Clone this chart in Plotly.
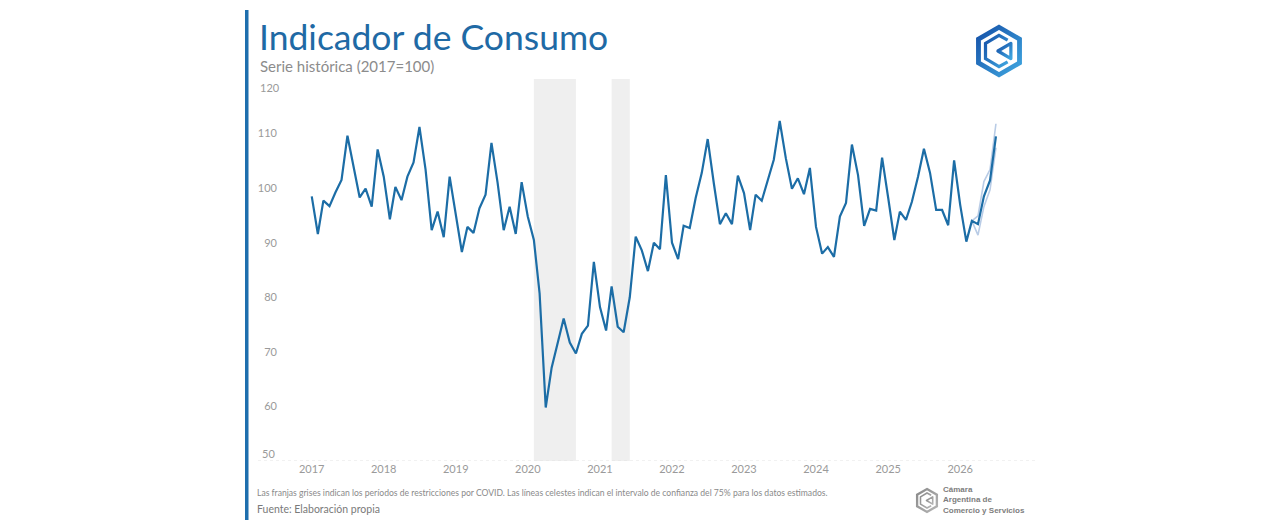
import base64
import pandas as pd
import plotly.graph_objects as go

# Indicador de Consumo, serie mensual (2017=100)
y2017 = [98.5, 91.6, 97.7, 96.7, 99.2, 101.5, 109.6, 104.0, 98.3, 99.9, 96.6, 107.1]
y2018 = [102.1, 94.3, 100.2, 97.8, 102.1, 104.7, 111.2, 103.4, 92.3, 95.7, 91.0, 102.1]
y2019 = [95.4, 88.3, 92.9, 91.8, 96.3, 98.8, 108.3, 101.0, 92.3, 96.6, 91.6, 101.1]
y2020 = [94.8, 90.5, 80.7, 59.8, 67.1, 71.7, 76.1, 71.7, 69.7, 73.3, 74.8, 86.5]
y2021 = [78.2, 73.9, 82.0, 74.6, 73.6, 80.0, 91.1, 88.6, 84.8, 90.0, 88.8, 102.4]
y2022 = [90.0, 87.0, 93.1, 92.7, 98.2, 102.8, 109.0, 100.9, 93.4, 95.4, 93.4, 102.3]
y2023 = [99.1, 92.3, 98.8, 97.7, 101.2, 105.2, 112.3, 105.5, 99.9, 101.8, 98.9, 103.7]
y2024 = [92.9, 88.0, 89.2, 87.4, 94.8, 97.3, 108.0, 102.4, 93.1, 96.2, 95.9, 105.6]
y2025 = [98.2, 90.5, 95.7, 94.2, 97.5, 102.1, 107.2, 102.8, 96.0, 96.0, 93.2, 105.1]
y2026 = [96.9, 90.2, 94.0, 93.4, 98.5, 101.4, 109.5]

# intervalo de confianza 75% (datos estimados, mar-jul 2026)
ci_dates = ["2026-03-01", "2026-04-01", "2026-05-01", "2026-06-01", "2026-07-01"]
ci_upper = [94.0, 94.9, 101.2, 103.4, 111.8]
ci_lower = [94.0, 91.4, 96.6, 99.7, 107.4]

# franjas COVID
covid_bands = [("2020-02-01", "2020-09-01"), ("2021-03-01", "2021-06-01")]

years = ["2017", "2018", "2019", "2020", "2021", "2022", "2023", "2024", "2025", "2026"]

values = y2017 + y2018 + y2019 + y2020 + y2021 + y2022 + y2023 + y2024 + y2025 + y2026
dates = pd.date_range("2017-01-01", periods=len(values), freq="MS")

BLUE = "#1c6da6"
GRAY = "#9a9a9a"
FONT = "Lato"

# the page draws the figure 8px in from the top left corner
OFF = 8
# plot area in page pixels
L, R, T, B = 278, 1035, 79, 461


def px(x):
    return (x - L) / (R - L)


def py(y):
    return (B - y) / (B - T)


def logo_svg(c1, c2):
    svg = f"""<svg xmlns='http://www.w3.org/2000/svg' viewBox='0 0 100 100'>
<defs><linearGradient id='g' x1='0' y1='0' x2='1' y2='1'>
<stop offset='0' stop-color='{c1}'/><stop offset='1' stop-color='{c2}'/></linearGradient></defs>
<path d='M50 6 L88 28 L88 72 L50 94 L12 72 L12 28 Z' fill='none' stroke='url(#g)' stroke-width='9'/>
<path d='M66 30 L50 21 L25 36 L25 64 L50 79 L66 70' fill='none' stroke='url(#g)' stroke-width='6'/>
<path d='M72 36 L72 64 L48 50 Z' fill='none' stroke='url(#g)' stroke-width='6' stroke-linejoin='round'/>
</svg>"""
    return "data:image/svg+xml;base64," + base64.b64encode(svg.encode()).decode()


fig = go.Figure()

fig.add_trace(go.Scatter(x=ci_dates, y=ci_upper, mode="lines",
                         line=dict(color="#b9cce6", width=1.6), hoverinfo="skip"))
fig.add_trace(go.Scatter(x=ci_dates, y=ci_lower, mode="lines",
                         line=dict(color="#b9cce6", width=1.6), hoverinfo="skip"))
fig.add_trace(go.Scatter(x=dates, y=values, mode="lines",
                         line=dict(color=BLUE, width=2.2)))

for x0, x1 in covid_bands:
    fig.add_shape(type="rect", xref="x", yref="paper", x0=x0, x1=x1, y0=0, y1=1,
                  fillcolor="#efefef", line=dict(width=0), layer="below")

# dotted base line
fig.add_shape(type="line", xref="paper", yref="y", x0=px(258), x1=1, y0=50, y1=50,
              line=dict(color="#e2e2e2", width=1, dash="dot"), layer="below")

# left blue bar
fig.add_shape(type="rect", xref="paper", yref="paper", x0=px(245), x1=px(248.5),
              y0=py(520), y1=py(10), fillcolor="#1f6fae", line=dict(width=0))

annotations = [
    dict(text="Indicador de Consumo", x=px(257), y=py(37), font=dict(size=35.5, color="#1f6aa5")),
    dict(text="Serie histórica (2017=100)", x=px(258), y=py(66), font=dict(size=15, color="#8c8c8c")),
    dict(text="Las franjas grises indican los períodos de restricciones por COVID. "
              "Las líneas celestes indican el intervalo de confianza del 75% para los datos estimados.",
         x=px(255), y=py(493), font=dict(size=8.6, color="#8a8a8a")),
    dict(text="Fuente: Elaboración propia", x=px(255), y=py(509), font=dict(size=10.5, color="#7a7a7a")),
    dict(text="120", x=px(258), y=py(87), font=dict(size=11, color=GRAY)),
    dict(text="50", x=px(260), y=py(453), font=dict(size=11, color=GRAY)),
    dict(text="<b>Cámara<br>Argentina de<br>Comercio y Servicios</b>", x=px(941), y=py(500),
         font=dict(size=8, color="#7d7d7d", family="Liberation Sans"), align="left"),
]
for a in annotations:
    a.update(xref="paper", yref="paper", xanchor="left", yanchor="middle", showarrow=False)
    a.setdefault("font", {}).setdefault("family", FONT)

fig.update_layout(
    width=1280, height=531,
    margin=dict(l=L - OFF, r=1280 - R + OFF, t=T - OFF, b=531 - B + OFF),
    paper_bgcolor="white", plot_bgcolor="white",
    showlegend=False,
    font=dict(family=FONT, color=GRAY, size=11),
    annotations=annotations,
    images=[
        dict(source=logo_svg("#1551a8", "#3fa6e0"), xref="paper", yref="paper",
             x=px(972), y=py(21), sizex=px(1026) - px(972), sizey=py(21) - py(81),
             xanchor="left", yanchor="top", sizing="contain", layer="above"),
        dict(source=logo_svg("#8a8a8a", "#b5b5b5"), xref="paper", yref="paper",
             x=px(914), y=py(486), sizex=px(940) - px(914), sizey=py(486) - py(515),
             xanchor="left", yanchor="top", sizing="contain", layer="above"),
    ],
)

fig.update_xaxes(range=["2016-07-14", "2027-01-15"], tickvals=[f"{y}-01-01" for y in years],
                 ticktext=years, showgrid=False, zeroline=False, showline=False,
                 tickfont=dict(size=11, color=GRAY))
fig.update_yaxes(range=[50, 120], tickvals=[60, 70, 80, 90, 100, 110], showgrid=False,
                 zeroline=False, showline=False, tickfont=dict(size=11, color=GRAY))

fig.write_html("out.html")
